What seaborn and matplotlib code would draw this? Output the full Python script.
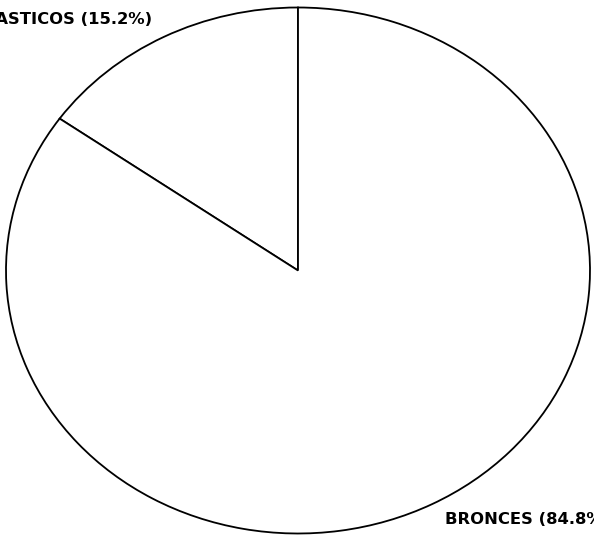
import matplotlib
matplotlib.use("Agg")
import matplotlib.pyplot as plt
import seaborn as sns

# Material shares (percent)
categories = ["PLASTICOS", "BRONCES"]
shares = [15.2, 84.8]

sns.set_theme(style="white")
plt.rcParams["font.family"] = ["DejaVu Sans"]

W, H = 594, 536
fig = plt.figure(figsize=(W / 100, H / 100), dpi=100)
ax = fig.add_axes([0, 0, 1, 1])

ax.pie(
    shares,
    startangle=90,
    counterclock=True,
    colors=["white", "white"],
    wedgeprops=dict(edgecolor="black", linewidth=1.3),
)

# Stretch the unit pie into the slightly wide ellipse (pixel geometry)
cx, cy = 298.0, 270.5
rx, ry = 292.0, 263.0
ax.set_aspect("auto")
ax.set_xlim(-cx / rx, (W - cx) / rx)
ax.set_ylim(-(H - cy) / ry, cy / ry)
ax.axis("off")

labels = [f"{c} ({v}%)" for c, v in zip(categories, shares)]

# label positions in pixels from the top-left corner
ax.text(152 / W, 1 - 24 / H, labels[0], transform=ax.transAxes,
        ha="right", va="baseline", fontsize=11.8, fontweight="bold", color="black")
ax.text(445 / W, 1 - 524 / H, labels[1], transform=ax.transAxes,
        ha="left", va="baseline", fontsize=11.8, fontweight="bold", color="black")

fig.savefig("out.png", dpi=100, facecolor="white")
